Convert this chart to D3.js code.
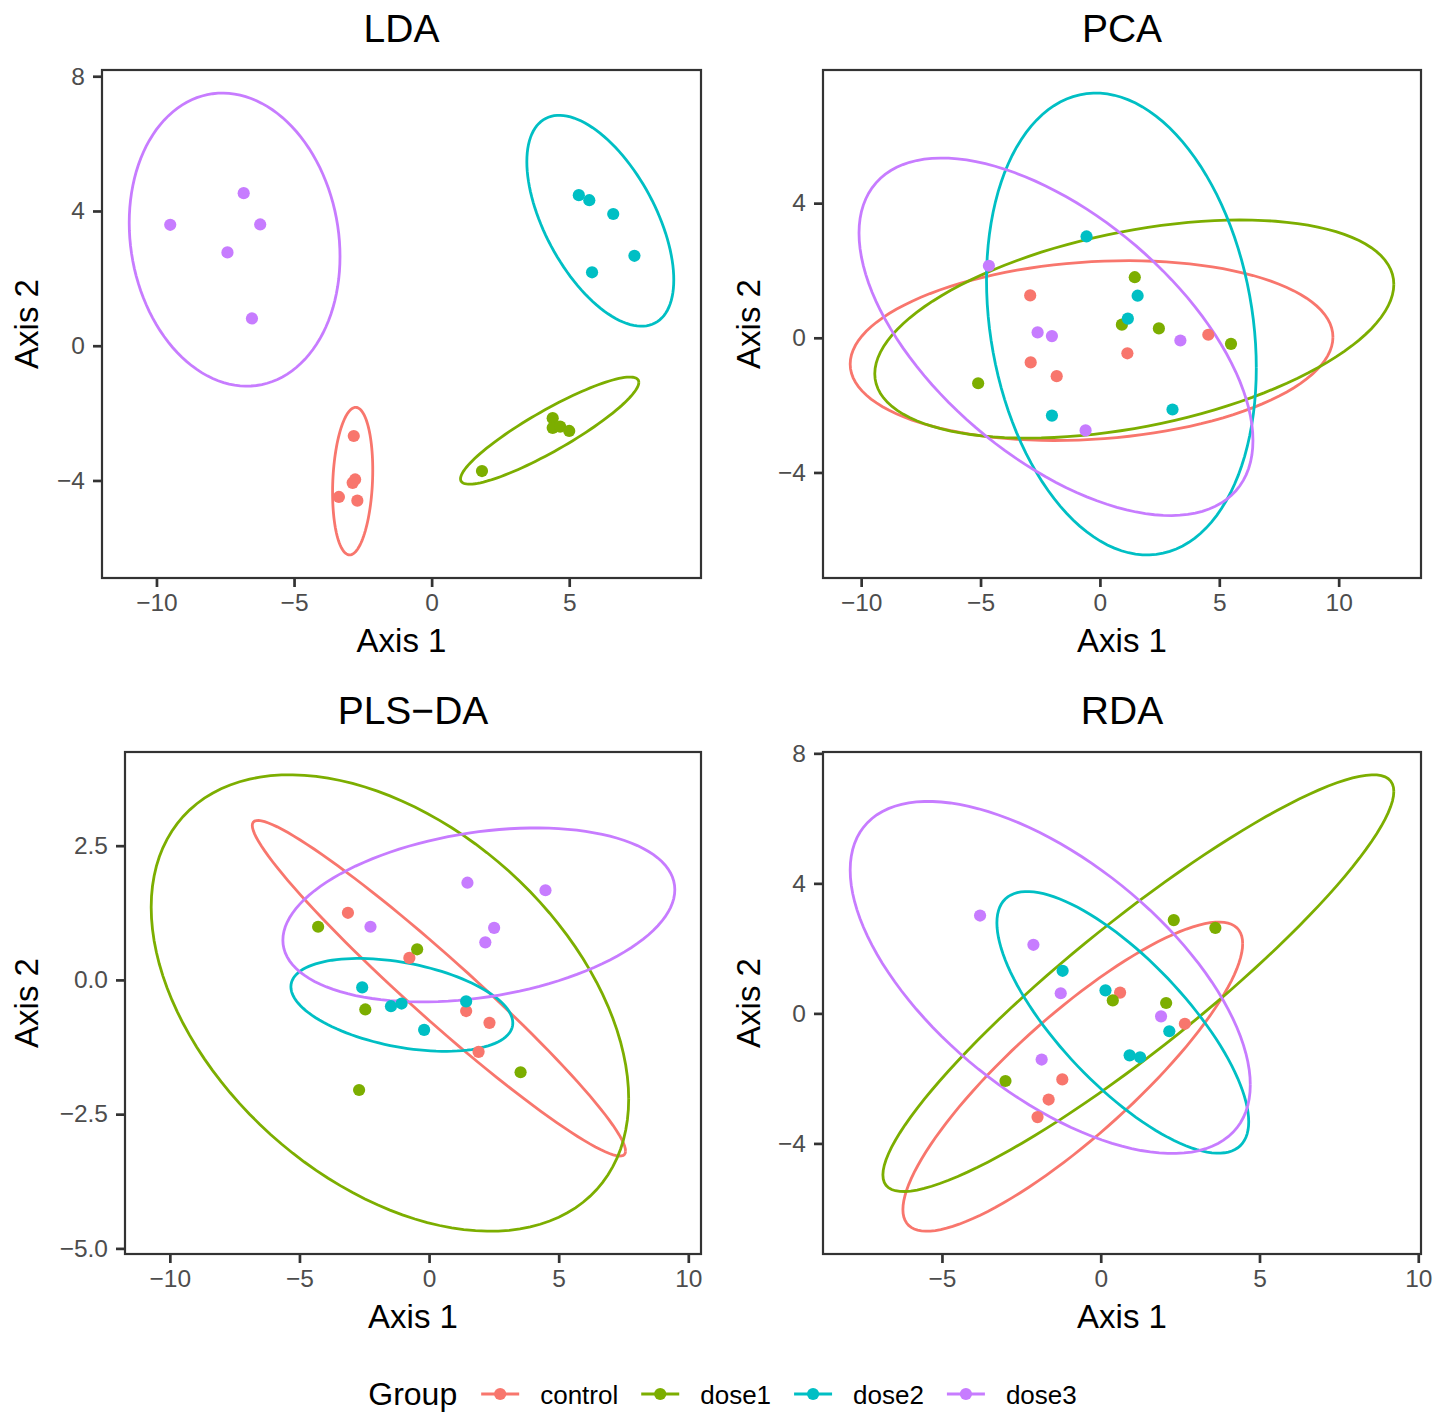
<!DOCTYPE html>
<html>
<head>
<meta charset="utf-8">
<script src="https://cdn.jsdelivr.net/npm/d3@7"></script>
<style>
  body { margin: 0; background: #fff; }
  svg { display: block; font-family: "Liberation Sans", Arial, sans-serif; }
</style>
</head>
<body>
<svg id="chart" width="1451" height="1414"></svg>
<script>
// groups, in the order ggplot uses them
var groups = ["control", "dose1", "dose2", "dose3"];
var groupColors = ["#F8766D", "#7CAE00", "#00BFC4", "#C77CFF"];

// five samples per group, same order in every ordination
var sampleGroup = ["control","control","control","control","control",
                   "dose1","dose1","dose1","dose1","dose1",
                   "dose2","dose2","dose2","dose2","dose2",
                   "dose3","dose3","dose3","dose3","dose3"];

// LDA scores
var ldaAxis1 = [-2.83, -2.78, -2.87, -3.37, -2.70,   1.83, 4.40, 4.40, 4.67, 5.00,
                 5.35,  5.73,  6.60,  7.37,  5.83,  -9.50, -6.83, -6.23, -7.42, -6.53];
var ldaAxis2 = [-2.68, -3.97, -4.07, -4.49, -4.60,  -3.72, -2.15, -2.44, -2.40, -2.53,
                 4.47,  4.32,  3.91,  2.67,  2.18,   3.59, 4.53, 3.60, 2.77, 0.81];
// 95% ellipses: centre x, centre y, half width, half height, correlation
var ldaEllipses = [[-2.87, -4.02, 0.73, 2.19, 0.15],
                   [ 4.29, -2.52, 3.24, 1.59, 0.90],
                   [ 6.13,  3.71, 2.67, 3.13, -0.56],
                   [-7.16,  3.15, 3.83, 4.35, -0.115]];
var ldaXTicks = [-10, -5, 0, 5];
var ldaYTicks = [-4, 0, 4, 8];

// PCA scores
var pcaAxis1 = [-2.92, -2.90, -1.81, 1.15, 4.54,   -5.10, 0.92, 1.46, 2.47, 5.49,
                -0.56,  1.58,  1.17, -2.01, 3.04,  -4.65, -2.61, -2.01, -0.60, 3.37];
var pcaAxis2 = [ 1.26, -0.73, -1.14, -0.46, 0.09,  -1.35, 0.39, 1.80, 0.28, -0.18,
                 3.01,  1.25,  0.57, -2.31, -2.13,  2.14, 0.16, 0.05, -2.75, -0.08];
var pcaEllipses = [[-0.35, -0.38, 10.11, 2.67, 0.15],
                   [ 1.44,  0.26, 10.87, 3.24, 0.41],
                   [ 0.90,  0.41,  5.65, 6.86, -0.19],
                   [-1.84,  0.03,  8.25, 5.31, -0.58]];
var pcaXTicks = [-10, -5, 0, 5, 10];
var pcaYTicks = [-4, 0, 4];

// PLS-DA scores
var plsAxis1 = [-3.13, -0.76, 1.43, 2.33, 1.91,   -4.28, -0.46, -2.46, -2.70, 3.53,
                -2.58, -1.47, -1.06, -0.19, 1.43,  -2.26, 1.48, 4.49, 2.51, 2.17];
var plsAxis2 = [ 1.25,  0.41, -0.58, -0.80, -1.34,  0.99, 0.57, -0.55, -2.05, -1.72,
                -0.14, -0.49, -0.44, -0.93, -0.40,  0.99, 1.81, 1.67, 0.97, 0.70];
var plsEllipses = [[ 0.38, -0.155, 7.20, 3.125, -0.97],
                   [-1.51, -0.43,  9.21, 4.25,  -0.42],
                   [-1.05, -0.465, 4.28, 0.865, -0.39],
                   [ 1.92,  1.21,  7.56, 1.62,   0.29]];
var plsXTicks = [-10, -5, 0, 5, 10];
var plsYTicks = [-5, -2.5, 0, 2.5];

// RDA scores
var rdaAxis1 = [ 0.61, 2.65, -1.21, -1.64, -1.99,   0.38, 2.06, 2.30, 3.61, -3.00,
                -1.20, 0.15,  0.91,  1.24,  2.16,  -3.80, -2.12, -1.26, 1.90, -1.86];
var rdaAxis2 = [ 0.64, -0.32, -2.03, -2.65, -3.19,  0.40, 0.32, 2.87, 2.63, -2.08,
                 1.31,  0.71, -1.29, -1.35, -0.55,  3.01, 2.11, 0.62, -0.09, -1.42];
var rdaEllipses = [[-0.88, -1.945, 5.35, 4.755, 0.86],
                   [ 1.185, 0.93,  8.045, 6.41, 0.92],
                   [ 0.695, -0.275, 3.965, 4.025, -0.76],
                   [-1.59,  1.105, 6.30, 5.415, -0.61]];
var rdaXTicks = [-5, 0, 5, 10];
var rdaYTicks = [-4, 0, 4, 8];

var svg = d3.select("#chart");
var color = d3.scaleOrdinal().domain(groups).range(groupColors);

var panels = [
  {title: "LDA", ax1: ldaAxis1, ax2: ldaAxis2, ell: ldaEllipses, xt: ldaXTicks, yt: ldaYTicks,
   yfmt: "d", box: [102, 70, 701, 578], ylabX: 38},
  {title: "PCA", ax1: pcaAxis1, ax2: pcaAxis2, ell: pcaEllipses, xt: pcaXTicks, yt: pcaYTicks,
   yfmt: "d", box: [823, 70, 1421, 578], ylabX: 760},
  {title: "PLS\u2212DA", ax1: plsAxis1, ax2: plsAxis2, ell: plsEllipses, xt: plsXTicks, yt: plsYTicks,
   yfmt: ".1f", box: [125, 752, 701, 1254], ylabX: 38},
  {title: "RDA", ax1: rdaAxis1, ax2: rdaAxis2, ell: rdaEllipses, xt: rdaXTicks, yt: rdaYTicks,
   yfmt: "d", box: [823, 752, 1421, 1254], ylabX: 760}
];

// points along an ellipse (same form stat_ellipse uses: circle times cholesky factor)
function ellipsePoints(e) {
  var pts = [];
  var s = Math.sqrt(1 - e[4] * e[4]);
  for (var i = 0; i <= 120; i++) {
    var t = i / 120 * 2 * Math.PI;
    pts.push([e[0] + e[2] * Math.cos(t), e[1] + e[3] * (e[4] * Math.cos(t) + s * Math.sin(t))]);
  }
  return pts;
}

// ggplot style 5% expansion
function expand(ext) {
  var pad = (ext[1] - ext[0]) * 0.05;
  return [ext[0] - pad, ext[1] + pad];
}

panels.forEach(function(p) {
  var g = svg.append("g");
  var x0 = p.box[0], y0 = p.box[1], x1 = p.box[2], y1 = p.box[3];

  var allEll = [];
  p.ell.forEach(function(e) { allEll = allEll.concat(ellipsePoints(e)); });
  var xs = allEll.map(function(d) { return d[0]; }).concat(p.ax1);
  var ys = allEll.map(function(d) { return d[1]; }).concat(p.ax2);

  var x = d3.scaleLinear().domain(expand(d3.extent(xs))).range([x0, x1]);
  var y = d3.scaleLinear().domain(expand(d3.extent(ys))).range([y1, y0]);

  var clip = "clip" + p.title.replace(/[^A-Za-z]/g, "");
  g.append("clipPath").attr("id", clip)
    .append("rect").attr("x", x0).attr("y", y0).attr("width", x1 - x0).attr("height", y1 - y0);

  var line = d3.line()
    .x(function(d) { return x(d[0]); })
    .y(function(d) { return y(d[1]); });

  // ellipses
  g.append("g").attr("clip-path", "url(#" + clip + ")")
    .selectAll("path")
    .data(p.ell)
    .enter().append("path")
    .attr("d", function(e) { return line(ellipsePoints(e)); })
    .attr("fill", "none")
    .attr("stroke", function(e, i) { return color(groups[i]); })
    .attr("stroke-width", 2.8);

  // points
  g.append("g")
    .selectAll("circle")
    .data(p.ax1)
    .enter().append("circle")
    .attr("cx", function(d) { return x(d); })
    .attr("cy", function(d, i) { return y(p.ax2[i]); })
    .attr("r", 6.1)
    .attr("fill", function(d, i) { return color(sampleGroup[i]); });

  // axes
  var xAxis = d3.axisBottom(x).tickValues(p.xt).tickFormat(d3.format("d")).tickSize(9).tickPadding(7);
  var yAxis = d3.axisLeft(y).tickValues(p.yt).tickFormat(d3.format(p.yfmt)).tickSize(9).tickPadding(8);

  var gx = g.append("g").attr("transform", "translate(0," + y1 + ")").call(xAxis);
  var gy = g.append("g").attr("transform", "translate(" + x0 + ",0)").call(yAxis);
  [gx, gy].forEach(function(a) {
    a.select(".domain").remove();
    a.selectAll(".tick line").attr("stroke", "#333333").attr("stroke-width", 2.7);
    a.selectAll(".tick text")
      .attr("fill", "#4D4D4D")
      .style("font-size", "24.5px")
      .style("font-family", "'Liberation Sans', Arial, sans-serif");
  });

  // panel border
  g.append("rect")
    .attr("x", x0).attr("y", y0)
    .attr("width", x1 - x0).attr("height", y1 - y0)
    .attr("fill", "none")
    .attr("stroke", "#333333")
    .attr("stroke-width", 2.2);

  // titles
  g.append("text")
    .attr("x", (x0 + x1) / 2).attr("y", y0 - 28)
    .attr("text-anchor", "middle")
    .style("font-size", "39px")
    .text(p.title);

  g.append("text")
    .attr("x", (x0 + x1) / 2).attr("y", y1 + 74)
    .attr("text-anchor", "middle")
    .style("font-size", "33px")
    .text("Axis 1");

  g.append("text")
    .attr("transform", "translate(" + p.ylabX + "," + ((y0 + y1) / 2) + ") rotate(-90)")
    .attr("text-anchor", "middle")
    .style("font-size", "33px")
    .text("Axis 2");
});

// legend along the bottom, centred
var legend = svg.append("g");
var legY = 1394;
var title = legend.append("text")
  .attr("y", legY + 11)
  .style("font-size", "32px")
  .text("Group");
var items = groups.map(function(gname) {
  var it = legend.append("g");
  it.append("line").attr("x1", 0).attr("x2", 38).attr("y1", legY).attr("y2", legY)
    .attr("stroke", color(gname)).attr("stroke-width", 2.8);
  it.append("circle").attr("cx", 19).attr("cy", legY).attr("r", 6.1).attr("fill", color(gname));
  var t = it.append("text").attr("x", 59).attr("y", legY + 10)
    .style("font-size", "26px").text(gname);
  return {g: it, w: 59 + t.node().getComputedTextLength()};
});
var titleW = title.node().getComputedTextLength();
var total = titleW + 24 + d3.sum(items, function(d) { return d.w; }) + 23 * (items.length - 1);
var cursor = 1451 / 2 - total / 2 - 3;
title.attr("x", cursor);
cursor += titleW + 24;
items.forEach(function(it) {
  it.g.attr("transform", "translate(" + cursor + ",0)");
  cursor += it.w + 23;
});
</script>
</body>
</html>
